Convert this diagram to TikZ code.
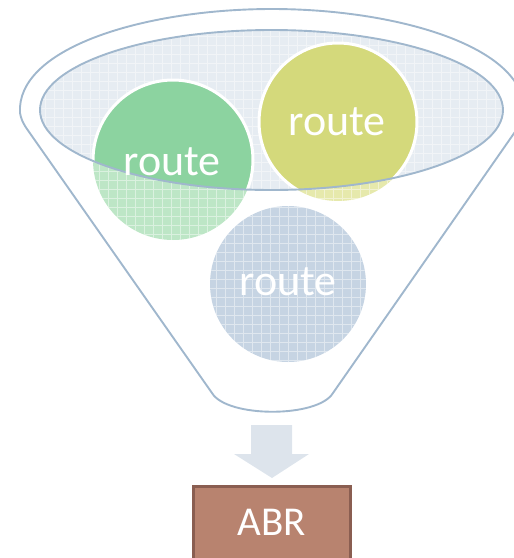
\documentclass[tikz,border=0pt]{standalone}
\usepackage{fontspec}
\setmainfont{Carlito}
\begin{document}
\begin{tikzpicture}[x=1pt,y=-1pt,
  rim/.style={draw=rimblue,line width=1.9pt,line join=round},
  label/.style={text=white,font=\fontsize{44}{44}\selectfont,anchor=base,inner sep=0pt},
  texture/.style={white,line width=0.7pt,opacity=0.45}]
\definecolor{rimblue}{HTML}{A0B7CD}
\definecolor{bowl}{HTML}{E6ECF2}
\definecolor{greenA}{HTML}{8CD3A0}
\definecolor{greenB}{HTML}{BDE6C6}
\definecolor{yellowA}{HTML}{D4D97B}
\definecolor{yellowB}{HTML}{E6E9AC}
\definecolor{blueB}{HTML}{C6D4E3}
\definecolor{arrowgrey}{HTML}{DDE4EC}
\definecolor{brickfill}{HTML}{B8836F}
\definecolor{brickline}{HTML}{8A5E51}
\useasboundingbox (0,0) rectangle (514,558);
\clip (0,0) rectangle (514,558);

% bowl surface of the funnel
\fill[bowl] (271.5,110) ellipse[x radius=231.5,y radius=80];
\begin{scope}
  \clip (271.5,110) ellipse[x radius=231.5,y radius=80];
  \draw[texture] (30,200) grid[step=9pt] (510,20);
\end{scope}

% lower (textured) halves of the two upper circles
\fill[greenB] (173,160) circle[radius=80];
\fill[yellowB] (338,122) circle[radius=79];
\begin{scope}
  \clip (173,160) circle[radius=80];
  \draw[texture] (90,245) grid[step=9pt] (260,75);
\end{scope}
\begin{scope}
  \clip (338,122) circle[radius=79];
  \draw[texture] (255,205) grid[step=9pt] (420,40);
\end{scope}

% solid parts inside the bowl
\begin{scope}
  \clip (271.5,110) ellipse[x radius=231.5,y radius=80];
  \draw[white,line width=3pt,fill=greenA] (173,160) circle[radius=80];
  \draw[white,line width=3pt,fill=yellowA] (338,122) circle[radius=79];
\end{scope}
\draw[rim] (271.5,110) ellipse[x radius=231.5,y radius=80];

% third circle, lower in the funnel
\fill[blueB] (288,284) circle[radius=78];
\begin{scope}
  \clip (288,284) circle[radius=78];
  \draw[texture] (205,370) grid[step=9pt] (370,200);
\end{scope}

\node[label] (r1) at (172,175) {route};
\node[label] (r2) at (337,135) {route};
\node[label] (r3) at (288,295) {route};

% funnel outline
\draw[rim] (212,393) -- (27,129)
  .. controls (22,122) and (19,114) .. (20,107)
  .. controls (24,45) and (150,9) .. (272,9)
  .. controls (394,9) and (520,45) .. (524,107)
  .. controls (525,114) and (522,122) .. (517,129)
  -- (333,393)
  .. controls (318,418) and (227,418) .. (212,393) -- cycle;

% output arrow and result box
\node[draw=brickline,line width=3pt,fill=brickfill,minimum width=157pt,minimum height=90pt,inner sep=0pt,anchor=north] (abr) at (271.5,484.5) {};
\node[text=white,font=\fontsize{41}{41}\selectfont,anchor=base,inner sep=0pt] (abrtext) at (271.5,535) {ABR};
\fill[arrowgrey] (251,425) -- (292,425) -- (292,454) -- (309,454) -- (272,478) -- (234,454) -- (251,454) -- cycle;
\end{tikzpicture}
\end{document}
